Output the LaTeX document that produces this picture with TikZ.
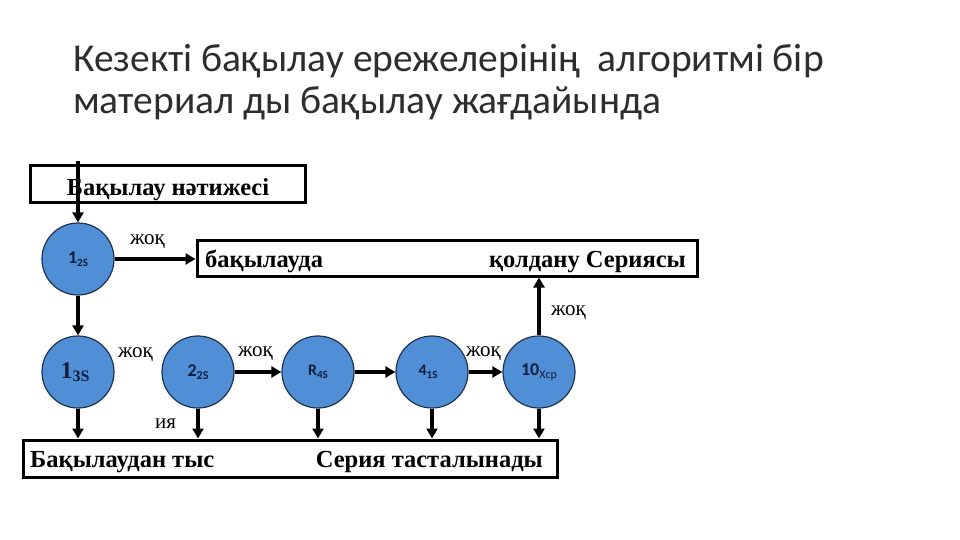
\documentclass[tikz,border=0pt]{standalone}
\usepackage{fontspec}
\setmainfont{Liberation Serif}
\newfontfamily\titlefont{Carlito}
\newfontfamily\calfont{Carlito}
\usetikzlibrary{arrows.meta}
\definecolor{circfill}{RGB}{80,143,214}
\definecolor{circline}{RGB}{30,50,80}
\definecolor{circtext}{RGB}{15,30,60}
\definecolor{titlegray}{RGB}{45,45,45}
\newcommand\clab[4]{{\fontsize{#3}{#3}\selectfont #1}\raisebox{-0.35em}{\fontsize{#4}{#4}\selectfont #2}}
\begin{document}
\begin{tikzpicture}[x=1pt,y=-1pt,
  circ/.style={circle,draw=circline,line width=1.2pt,fill=circfill,minimum size=72pt,inner sep=0pt,font=\calfont\bfseries\color{circtext}},
  boxx/.style={draw,line width=3pt,fill=white,inner sep=0pt},
  boxtext/.style={font=\bfseries\fontsize{24.5}{24.5}\selectfont,inner sep=0pt},
  arr/.style={line width=3.5pt,-{Triangle[length=10pt,width=11pt]}},
  lab/.style={font=\fontsize{21}{21}\selectfont,inner sep=0pt,anchor=base west},
  ttl/.style={anchor=base west,inner sep=0pt,font=\titlefont\fontsize{39.5}{39.5}\selectfont,text=titlegray}
]
\useasboundingbox (0,0) rectangle (960,540);
% title
\node[ttl] (t1) at (73,72) {Кезекті бақылау ережелерінің\ \ алгоритмі бір};
\node[ttl] (t2) at (73,114) {материал ды бақылау жағдайында};
% boxes
\node[boxx,minimum width=275pt,minimum height=36pt] (b1) at (167.5,184) {};
\node[boxtext,anchor=base] (b1t) at (168,195) {Бақылау нәтижесі};
\node[boxx,minimum width=500pt,minimum height=36pt] (b2) at (447,258) {};
\node[boxtext,anchor=base west] (b2l) at (205,267) {бақылауда};
\node[boxtext,anchor=base east] (b2r) at (686,267) {қолдану Сериясы};
\node[boxx,minimum width=534pt,minimum height=37pt] (b3) at (290,458.5) {};
\node[boxtext,anchor=base west] (b3l) at (30,467) {Бақылаудан тыс};
\node[boxtext,anchor=base east] (b3r) at (543,467) {Серия тасталынады};
% circles
\node[circ] (A) at (78,259) {\clab{1}{2S}{18}{11}};
\node[circ] (B) at (78,372) {\textcolor{circtext}{\normalfont\rmfamily\bfseries\raisebox{-2pt}{\hspace*{-6pt}\clab{1}{3S}{24}{16}}}};
\node[circ] (C) at (198,372) {\raisebox{-4pt}{\clab{2}{2S}{18}{12}}};
\node[circ] (D) at (318,372) {\raisebox{-2pt}{\clab{R}{4S}{16}{11}}};
\node[circ] (E) at (432,372) {\raisebox{-2pt}{\hspace*{-8pt}\clab{4}{1S}{16}{11}}};
\node[circ] (F) at (539,372) {\clab{10}{\mdseries Xcp}{18}{12}};
% connectors
\coordinate (s) at (78,161);
\draw[arr] (s) -- (A.north);
\draw[arr] (A.east) -- (b2.west |- A);
\draw[arr] (A.south) -- (B.north);
\draw[arr] (C.east) -- (D.west);
\draw[arr] (D.east) -- (E.west);
\draw[arr] (E.east) -- (F.west);
\draw[arr] (F.north) -- (F |- b2.south);
\foreach \n in {B,C,D,E,F} \draw[arr] (\n.south) -- (\n |- b3.north);
% labels
\node[lab] (l1) at (130,244) {жоқ};
\node[lab] (l2) at (551,315) {жоқ};
\node[lab] (l3) at (118,357) {жоқ};
\node[lab] (l4) at (238,356) {жоқ};
\node[lab] (l5) at (466,356) {жоқ};
\node[lab] (l6) at (155,428) {ия};
\end{tikzpicture}
\end{document}
